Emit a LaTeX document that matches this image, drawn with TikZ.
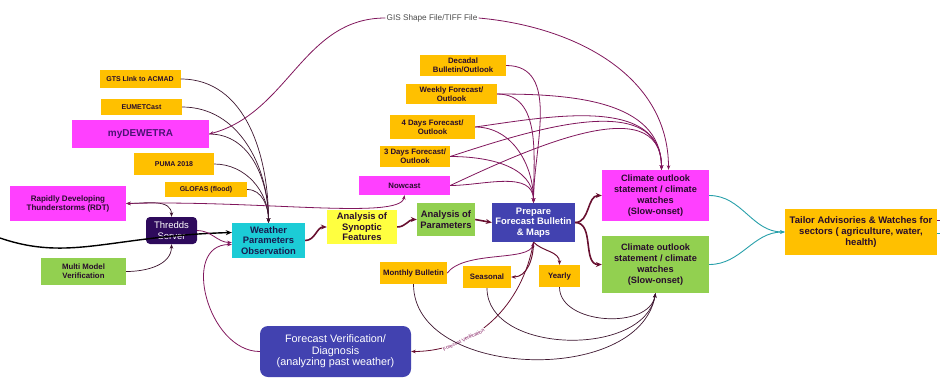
\documentclass[tikz,border=0pt]{standalone}
\usepackage{fontspec}
\setmainfont{Liberation Sans}
\usetikzlibrary{arrows.meta}

\definecolor{gold}{RGB}{255,192,0}
\definecolor{orchid}{RGB}{255,64,255}
\definecolor{leaf}{RGB}{146,208,80}
\definecolor{aqua}{RGB}{28,204,214}
\definecolor{lemon}{RGB}{255,255,64}
\definecolor{royal}{RGB}{66,66,176}
\definecolor{grape}{RGB}{46,10,92}
\definecolor{ink}{RGB}{40,12,44}
\definecolor{navy}{RGB}{24,28,80}
\definecolor{wire}{RGB}{62,22,48}
\definecolor{plum}{RGB}{128,22,92}
\definecolor{wine}{RGB}{104,16,48}
\definecolor{sea}{RGB}{40,160,170}

\tikzset{
  box/.style={align=center, inner sep=1pt, text=ink,
    font=\bfseries\fontsize{7.8}{9}\selectfont},
  feedbox/.style={box, fill=gold, font=\bfseries\fontsize{7}{8}\selectfont},
  outbox/.style={box, fill=gold},
  hotbox/.style={box, fill=orchid},
  limebox/.style={box, fill=leaf},
  bigtext/.style={font=\bfseries\fontsize{9.4}{10.6}\selectfont},
  midtext/.style={font=\bfseries\fontsize{9.2}{10.8}\selectfont},
  thinarr/.style={->, draw=wire, line width=0.7pt},
  plumarr/.style={->, draw=plum, line width=0.8pt},
  flowarr/.style={-{Stealth[length=6pt,width=5pt]}, draw=wine, line width=1.6pt},
  seaarr/.style={->, draw=sea, line width=0.9pt},
}

\begin{document}
\begin{tikzpicture}[x=1pt, y=-1pt, >={Stealth[length=4.5pt,width=3.5pt]}]
  \useasboundingbox (0,0) rectangle (940,386);
  % Data sources
  \node[feedbox, minimum width=81pt, minimum height=18pt] (gts) at (140,79) {GTS LInk to ACMAD};
  \node[feedbox, minimum width=81pt, minimum height=16pt] (eumet) at (141.5,107) {EUMETCast};
  \node[hotbox, text=grape!85!orchid, font=\bfseries\fontsize{10}{12}\selectfont,
        minimum width=137pt, minimum height=28pt] (dewetra) at (140.5,134) {myDEWETRA};
  \node[feedbox, minimum width=80pt, minimum height=22pt] (puma) at (174,164) {PUMA 2018};
  \node[feedbox, minimum width=82pt, minimum height=15pt] (glofas) at (206,189.5) {GLOFAS (flood)};
  \node[hotbox, font=\bfseries\fontsize{8}{9}\selectfont, minimum width=116pt, minimum height=35pt]
        (rdt) at (68,203.5) {Rapidly Developing\\Thunderstorms (RDT)};
  \node[box, fill=grape, text=white, font=\fontsize{9.5}{10.5}\selectfont, rounded corners=4pt,
        minimum width=51pt, minimum height=27pt] (thredds) at (171.5,230.5) {Thredds\\Server};
  \node[limebox, minimum width=85pt, minimum height=27pt] (mmv) at (83.5,271.5) {Multi Model\\Verification};
  % Processing chain
  \node[box, bigtext, fill=aqua, text=navy, minimum width=73pt, minimum height=35pt]
        (wpo) at (268.5,240.5) {Weather\\Parameters\\Observation};
  \node[box, bigtext, fill=lemon, minimum width=70pt, minimum height=34pt]
        (synoptic) at (362,227) {Analysis of\\Synoptic\\Features};
  \node[hotbox, minimum width=91pt, minimum height=19pt] (nowcast) at (404.5,185.5) {Nowcast};
  \node[limebox, bigtext, minimum width=58pt, minimum height=33pt]
        (aparam) at (446,219.5) {Analysis of\\Parameters};
  \node[box, bigtext, fill=royal, text=white, minimum width=83pt, minimum height=39pt]
        (prepare) at (533.5,222.5) {Prepare\\Forecast Bulletin\\\& Maps};
  % Forecast products
  \node[outbox, minimum width=86pt, minimum height=21pt] (decadal) at (463,65.5) {Decadal\\Bulletin/Outlook};
  \node[outbox, minimum width=91pt, minimum height=20pt] (weekly) at (451.5,94) {Weekly Forecast/\\Outlook};
  \node[outbox, minimum width=85pt, minimum height=24pt] (four) at (432.5,127) {4 Days Forecast/\\Outlook};
  \node[outbox, minimum width=70pt, minimum height=21pt] (three) at (415,156.5) {3 Days Forecast/\\Outlook};
  \node[outbox, minimum width=67pt, minimum height=22pt] (monthly) at (413.5,273) {Monthly Bulletin};
  \node[outbox, minimum width=48pt, minimum height=22pt] (seasonal) at (487,277) {Seasonal};
  \node[outbox, minimum width=41pt, minimum height=22pt] (yearly) at (559.5,276) {Yearly};
  % Outlooks and advisories
  \node[hotbox, midtext, minimum width=107pt, minimum height=51pt]
        (climA) at (655.5,195.5) {Climate outlook\\statement / climate\\watches\\(Slow-onset)};
  \node[limebox, midtext, minimum width=107pt, minimum height=57pt]
        (climB) at (655.5,264.5) {Climate outlook\\statement / climate\\watches\\(Slow-onset)};
  \node[outbox, font=\bfseries\fontsize{9.5}{10.8}\selectfont, minimum width=152pt, minimum height=46pt]
        (tailor) at (861,232) {Tailor Advisories \& Watches for\\sectors ( agriculture, water,\\health)};
  \node[box, fill=royal, text=white, font=\fontsize{10.8}{11.4}\selectfont, rounded corners=8pt,
        minimum width=151pt, minimum height=51pt]
        (verif) at (335.5,351.5) {Forecast Verification/\\Diagnosis\\(analyzing past weather)};
  \node[text=gray!60!black, inner sep=1pt, font=\fontsize{8.2}{9}\selectfont] (gis) at (432,18) {GIS Shape File/TIFF File};
  \coordinate (feedin) at (0,238);
  \coordinate (outA) at (940,220);
  \coordinate (outB) at (940,233);

  % Feeds into observation
  \foreach \s in {gts,eumet,dewetra,puma,glofas}
    \draw[thinarr] (\s.east) to[out=0,in=90] (wpo.north);
  \draw[black, line width=1.4pt, -{Stealth[length=6pt,width=5pt]}]
    (feedin) .. controls (70,262) and (110,236) .. ([yshift=8pt]wpo.west);
  \draw[plumarr] (thredds.east) to[out=0,in=180] ([yshift=-2pt]wpo.west);
  \draw[thinarr, <->] (rdt.east) to[out=0,in=90] (thredds.north);
  \draw[thinarr] (mmv.east) to[out=0,in=-90] (thredds.south);
  \draw[plumarr, <->] (rdt.east) .. controls (260,200) and (400,220) .. (nowcast.south);
  \draw[plumarr] (verif.west) to[out=180,in=180,looseness=1.2] ([yshift=-4pt]wpo.west);

  % Main chain
  \draw[flowarr] (wpo.east) to[out=0,in=180] (synoptic.west);
  \draw[flowarr] (synoptic.east) to[out=0,in=180] (aparam.west);
  \draw[flowarr] (aparam.east) -- (prepare.west);
  \draw[flowarr] (prepare.east) to[out=0,in=180] (climA.west);
  \draw[flowarr] (prepare.east) to[out=0,in=180] (climB.west);

  % Products into bulletin and outlook
  \foreach \s in {decadal,weekly,four,three,nowcast}
    \draw[plumarr] (\s.east) to[out=0,in=90] (prepare.north);
  \foreach \s/\a in {weekly/0,four/8,three/18,nowcast/25}
    \draw[plumarr] (\s.east) to[out=\a,in=90] ([xshift=6pt]climA.north);
  \draw[plumarr] (gis.west) to[out=180,in=15] (dewetra.east);
  \draw[plumarr] (gis.east) to[out=-5,in=90] ([xshift=13pt]climA.north);

  % Below the bulletin
  \draw[->, draw=wine, line width=1pt] (prepare.south) to[out=-90,in=0] (seasonal.east);
  \draw[->, draw=wine, line width=1pt] (prepare.south) to[out=-45,in=90] (yearly.north);
  \draw[plumarr] (monthly.east) .. controls (465,250) and (530,262) .. (prepare.south);
  \draw[->, draw=wine, line width=0.8pt] (prepare.south) to[out=-100,in=0]
    node[pos=0.7, sloped, font=\fontsize{5}{6}\selectfont, text=plum, fill=white, inner sep=0.6pt] {Forecast Verification}
    (verif.east);
  \foreach \s in {monthly,seasonal,yearly}
    \draw[thinarr] (\s.south) to[out=-90,in=-100] (climB.south);

  % Advisories
  \draw[seaarr] (climA.east) to[out=0,in=180] (tailor.west);
  \draw[seaarr] (climB.east) to[out=0,in=180] (tailor.west);
  \draw[plum, line width=0.8pt] ([yshift=12pt]tailor.east) -- (outA);
  \draw[sea, line width=0.9pt] ([yshift=-1pt]tailor.east) -- (outB);
\end{tikzpicture}
\end{document}
